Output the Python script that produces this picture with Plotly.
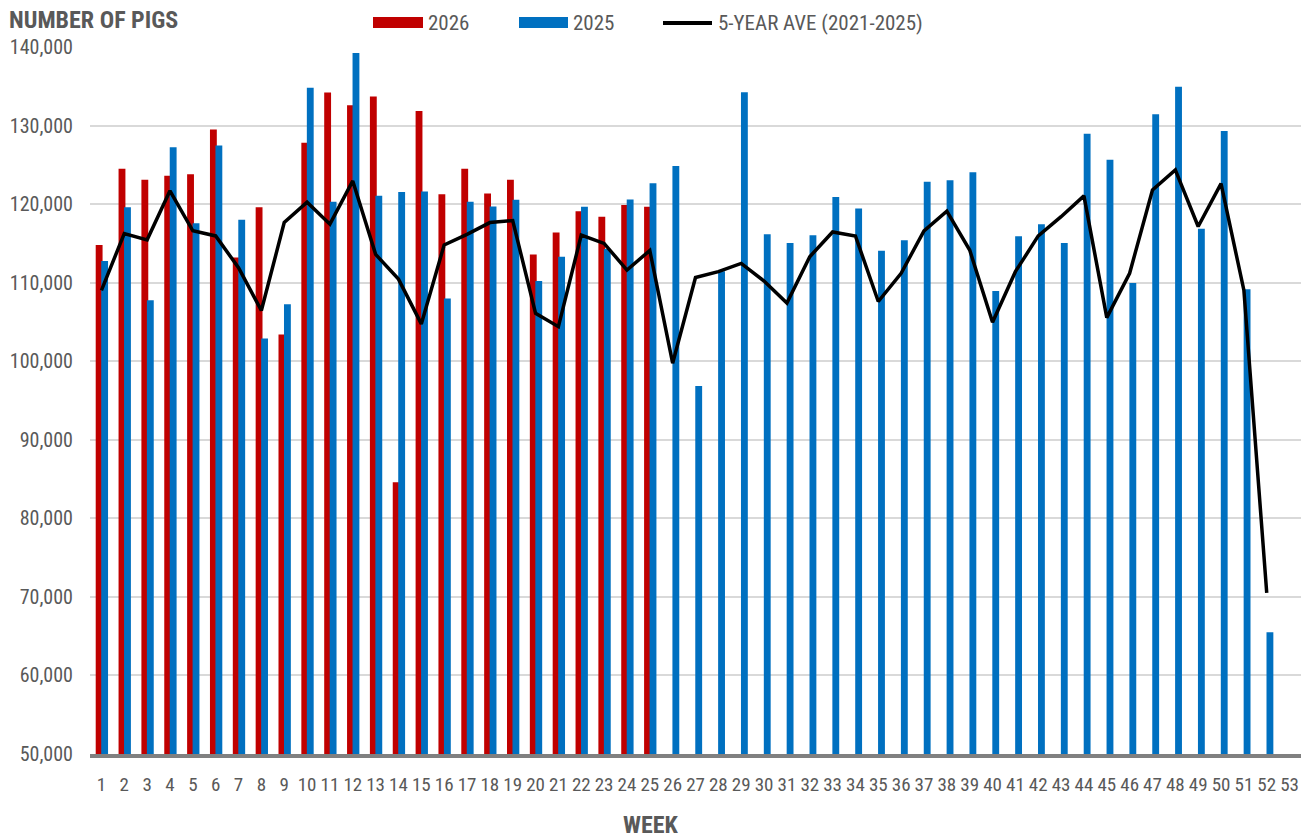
import plotly.graph_objects as go

# ---------------- data ----------------
week_labels = ["1", "2", "3", "4", "5", "6", "7", "8", "9", "10", "11", "12", "13", "14", "15",
               "16", "17", "18", "19", "20", "21", "22", "23", "24", "25", "26", "27", "28", "29",
               "30", "31", "32", "33", "34", "35", "36", "37", "38", "39", "40", "41", "42", "43",
               "44", "45", "46", "47", "48", "49", "50", "51", "52", "53"]
weeks = [int(w) for w in week_labels]

pigs_2026 = [114800, 124500, 123100, 123600, 123800, 129500, 113200, 119600, 103400, 127800,
             134200, 132600, 133700, 84600, 131850, 121250, 124500, 121350, 123100, 113600,
             116400, 119100, 118400, 119900, 119650]

pigs_2025 = [112750, 119600, 107750, 127250, 117550, 127450, 118000, 102900, 107250, 134800,
             120300, 139250, 121050, 121550, 121600, 108000, 120300, 119700, 120550, 110200,
             113300, 119650, 114300, 120600, 122650, 124850, 96850, 111450, 134250, 116150,
             115050, 116050, 120900, 119450, 114050, 115400, 122850, 123050, 124050, 108950,
             115900, 117450, 115050, 128950, 125650, 109950, 131450, 134950, 116850, 129300,
             109150, 65500]

avg_5yr = [109030, 116250, 115450, 121700, 116600, 115950, 111900, 106450, 117650, 120250,
           117450, 122950, 113600, 110450, 104750, 114800, 116150, 117650, 117900, 106100,
           104400, 116050, 115000, 111600, 114100, 99750, 110650, 111400, 112450, 110200,
           107400, 113300, 116450, 115950, 107600, 111200, 116600, 119100, 114150, 104950,
           111400, 115950, 118400, 121050, 105550, 111200, 121800, 124350, 117150, 122600,
           109050, 70500]

y_ticks = [50000, 60000, 70000, 80000, 90000, 100000, 110000, 120000, 130000, 140000]

series_names = ["2026", "2025", "5-YEAR AVE (2021-2025)"]

# ---------------- style ----------------
RED = "#C00000"
BLUE = "#0070C0"
TXT = "#595959"
FONT = "Liberation Sans Narrow, Arial Narrow, Roboto Condensed, DejaVu Sans Condensed, sans-serif"

W, H = 1309, 839
ML, MR, MT, MB = 90, 8, 47, 85
PW, PH = W - ML - MR, H - MT - MB


def px_x(p):
    return (p - ML) / PW


def px_y(p):
    return (H - MB - p) / PH


fig = go.Figure()

fig.add_trace(go.Bar(
    x=weeks[:len(pigs_2026)], y=pigs_2026, name=series_names[0],
    marker=dict(color=RED, line=dict(width=0)),
    width=0.3, offset=-0.25, showlegend=False,
))
fig.add_trace(go.Bar(
    x=weeks[:len(pigs_2025)], y=pigs_2025, name=series_names[1],
    marker=dict(color=BLUE, line=dict(width=0)),
    width=0.3, offset=-0.01, showlegend=False,
))
fig.add_trace(go.Scatter(
    x=weeks[:len(avg_5yr)], y=avg_5yr, name=series_names[2],
    mode="lines", line=dict(color="black", width=3.5), showlegend=False,
))

# manual legend (wide swatches as in the reference)
shapes = [
    dict(type="rect", xref="paper", yref="paper",
         x0=px_x(373), x1=px_x(423), y0=px_y(28), y1=px_y(17),
         fillcolor=RED, line=dict(width=0)),
    dict(type="rect", xref="paper", yref="paper",
         x0=px_x(519), x1=px_x(568), y0=px_y(28), y1=px_y(17),
         fillcolor=BLUE, line=dict(width=0)),
    dict(type="line", xref="paper", yref="paper",
         x0=px_x(663), x1=px_x(712), y0=px_y(23), y1=px_y(23),
         line=dict(color="black", width=4)),
]
annotations = [
    dict(text=series_names[0], xref="paper", yref="paper", x=px_x(426), y=px_y(23),
         xanchor="left", yanchor="middle", showarrow=False, font=dict(size=21, color=TXT, family=FONT)),
    dict(text=series_names[1], xref="paper", yref="paper", x=px_x(571), y=px_y(23),
         xanchor="left", yanchor="middle", showarrow=False, font=dict(size=21, color=TXT, family=FONT)),
    dict(text=series_names[2], xref="paper", yref="paper", x=px_x(716), y=px_y(23),
         xanchor="left", yanchor="middle", showarrow=False, font=dict(size=21, color=TXT, family=FONT)),
    dict(text="<b>NUMBER OF PIGS</b>", xref="paper", yref="paper", x=px_x(7), y=px_y(20),
         xanchor="left", yanchor="middle", showarrow=False, font=dict(size=24, color=TXT, family=FONT)),
    dict(text="<b>WEEK</b>", xref="paper", yref="paper", x=px_x(651), y=px_y(825),
         xanchor="center", yanchor="middle", showarrow=False, font=dict(size=24, color=TXT, family=FONT)),
]

fig.update_layout(
    width=W, height=H,
    margin=dict(l=ML, r=MR, t=MT, b=MB, pad=0),
    paper_bgcolor="white", plot_bgcolor="white",
    barmode="overlay",
    showlegend=False,
    shapes=shapes,
    annotations=annotations,
    font=dict(family=FONT, color=TXT),
)

fig.update_xaxes(
    range=[0.5, 53.5],
    tickmode="array", tickvals=weeks, ticktext=week_labels,
    tickfont=dict(size=19, color=TXT, family=FONT),
    showgrid=False, zeroline=False,
    showline=True, linecolor="#808080", linewidth=4,
    ticks="", ticklabelstandoff=10,
    automargin=False,
)
fig.update_yaxes(
    range=[50000, 140000],
    tickmode="array", tickvals=y_ticks,
    tickformat=",d",
    tickfont=dict(size=20, color=TXT, family=FONT),
    showgrid=True, gridcolor="#D9D9D9", gridwidth=2,
    zeroline=False, showline=False,
    ticks="", ticklabelstandoff=16,
    automargin=False,
)

fig.write_html(
    "out.html",
    config={"displayModeBar": False},
    post_script="document.body.style.margin='0';document.body.style.overflow='hidden';",
)
